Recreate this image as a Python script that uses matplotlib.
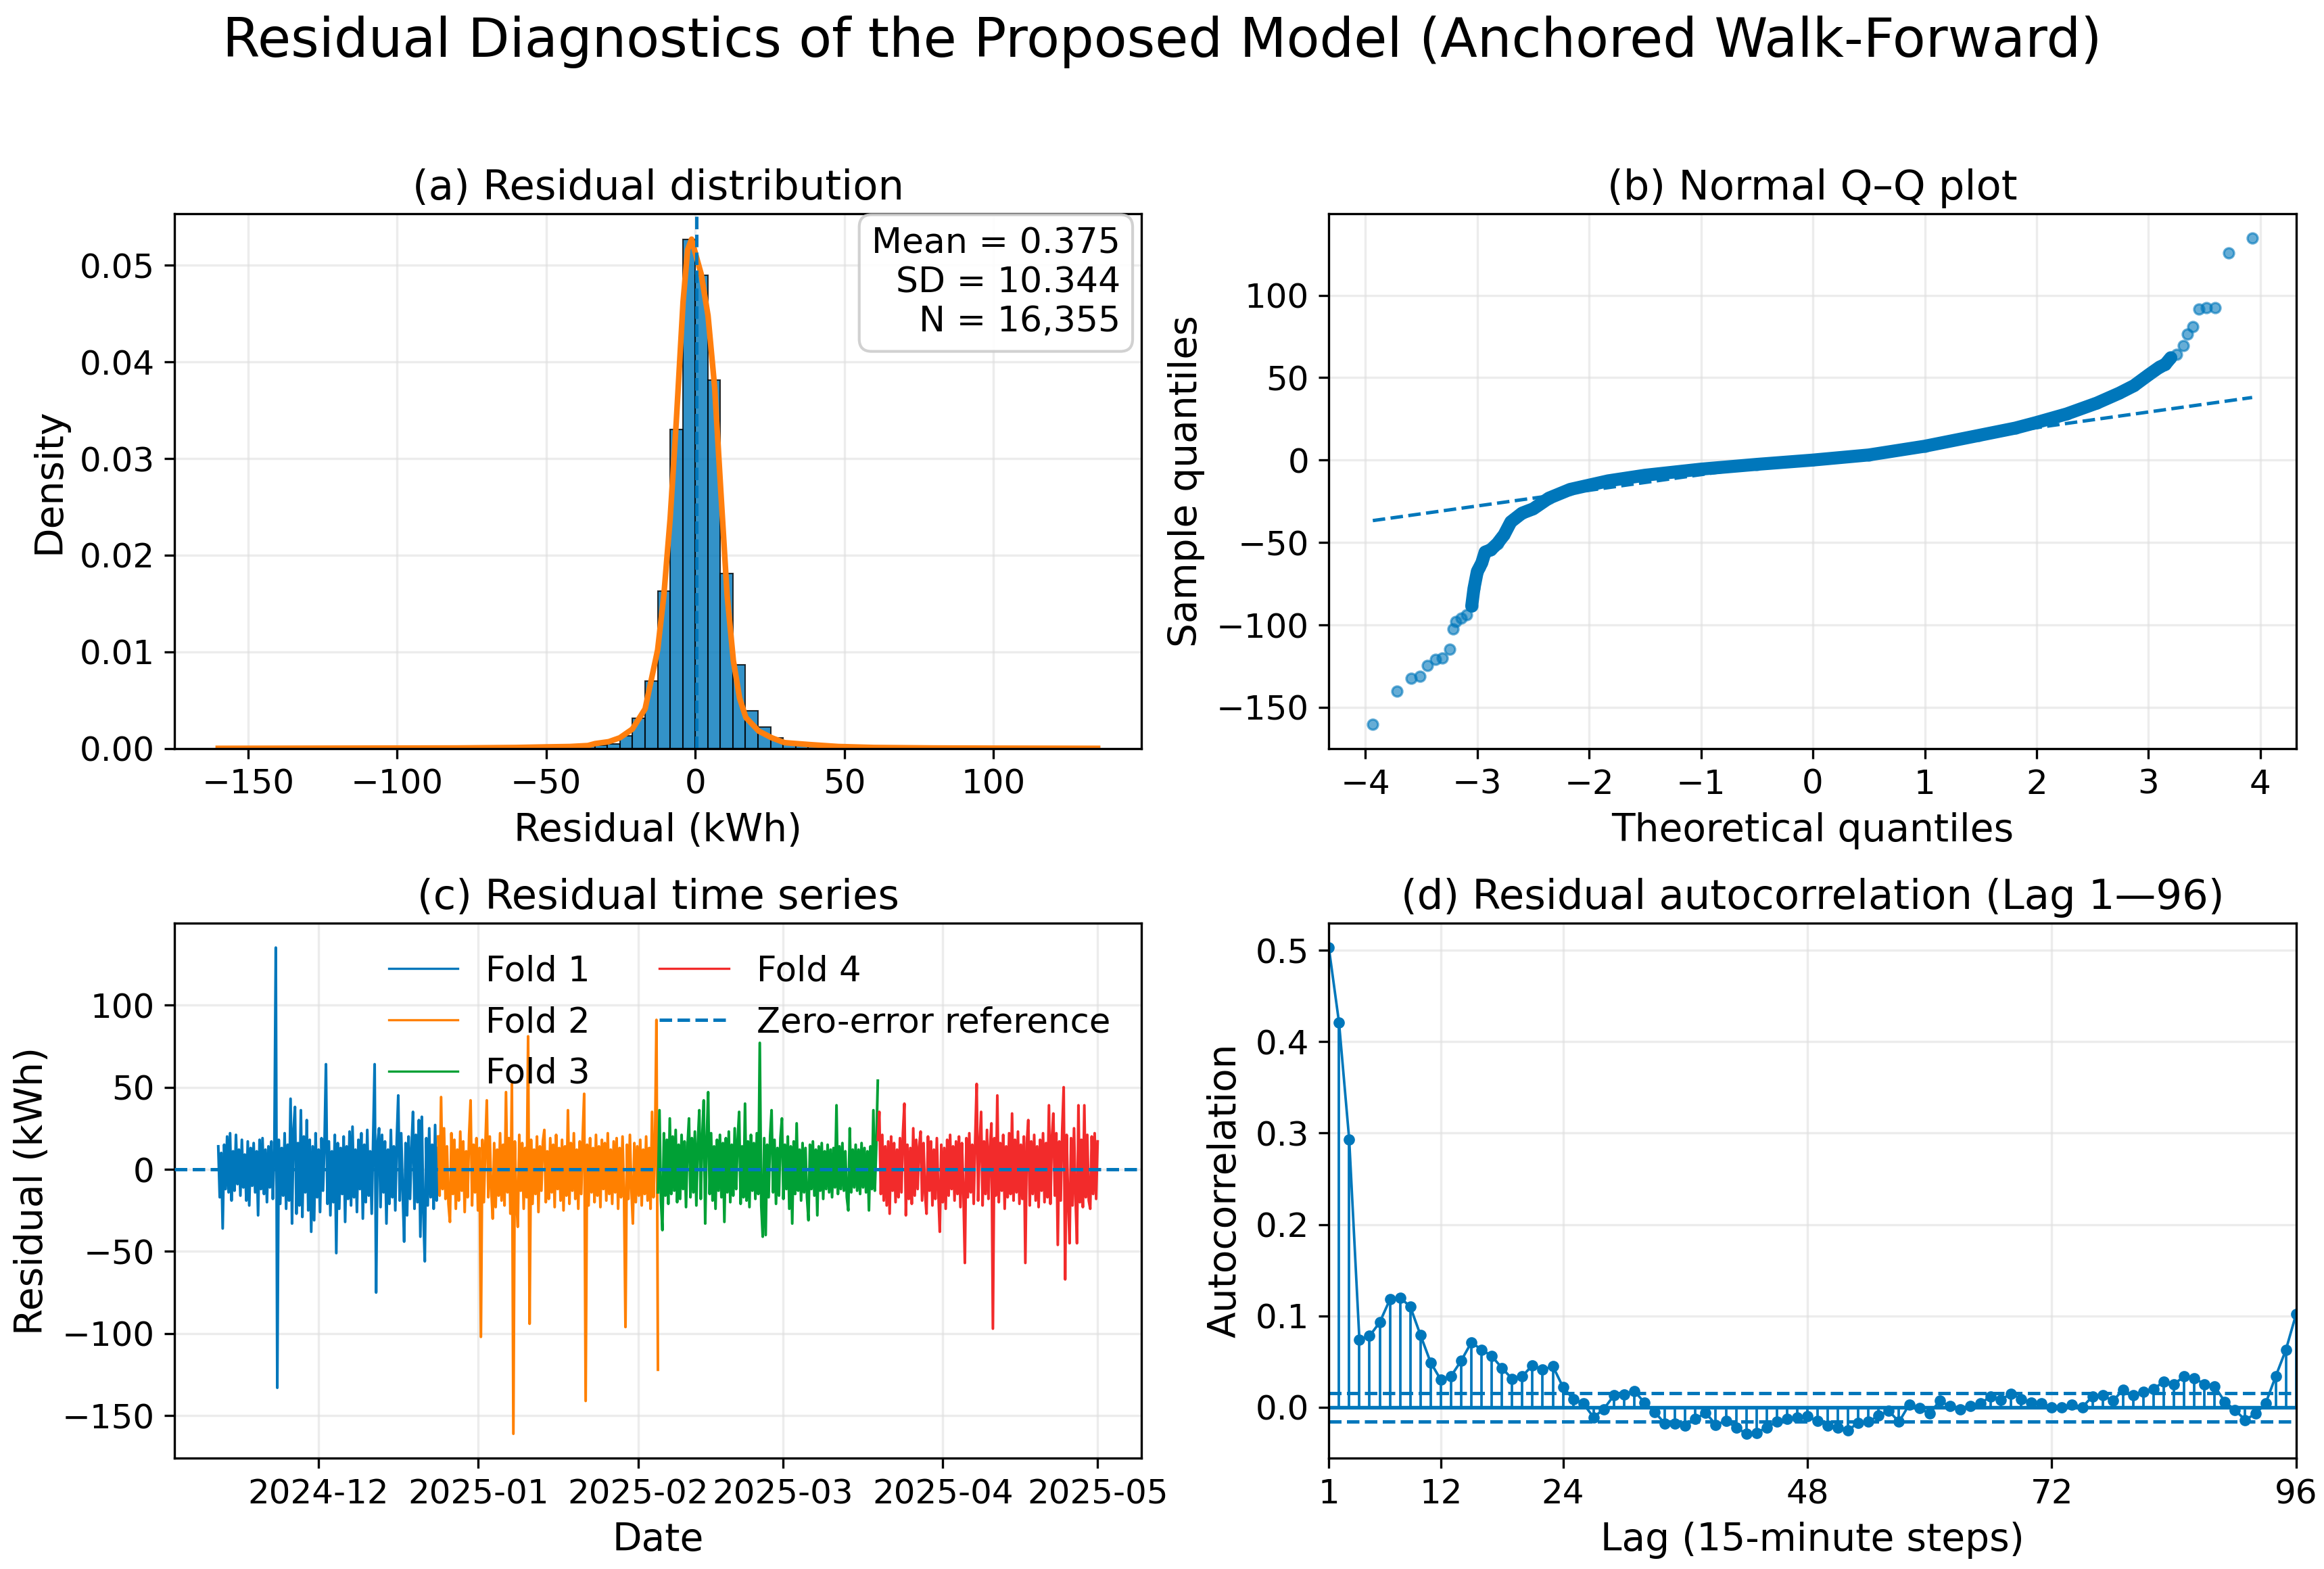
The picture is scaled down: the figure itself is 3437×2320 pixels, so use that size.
import numpy as np
import pandas as pd
import matplotlib
matplotlib.use("Agg")
from matplotlib import pyplot as plt
from matplotlib import rcParams
import matplotlib.dates as mdates

rcParams['font.family'] = ['DejaVu Sans']
rcParams['xtick.labelsize'] = 12
rcParams['ytick.labelsize'] = 12
rcParams['axes.labelsize'] = 13.6
rcParams['axes.titlesize'] = 14.6
rcParams['legend.fontsize'] = 12.3

BLUE = '#0077BB'
ORANGE = '#FF7F0E'

# ---- (a) residual histogram (density per bin) ----
hist_min, hist_max = -159.9, 134.7
hist_density = [
    1.5e-5, 0, 0, 0, 1.5e-5, 0, 2.9e-5, 0, 1.5e-5, 2.9e-5,
    1.5e-5, 0, 0, 1.5e-5, 2.9e-5, 4.4e-5, 2.9e-5, 1.5e-5, 1.5e-5, 2.9e-5,
    2.9e-5, 4.4e-5, 5.8e-5, 8.7e-5, 1.2e-4, 1.5e-4, 1.6e-4, 1.9e-4, 2.2e-4, 2.6e-4,
    3.2e-4, 5.0e-4, 1.32e-3, 3.10e-3, 6.96e-3, 1.625e-2, 3.30e-2, 5.27e-2, 4.90e-2, 3.81e-2,
    1.81e-2, 8.68e-3, 3.93e-3, 2.25e-3, 1.07e-3, 5.0e-4, 3.0e-4, 2.0e-4, 1.5e-4, 1.2e-4,
    8.7e-5, 7.3e-5, 5.8e-5, 4.4e-5, 2.9e-5, 2.9e-5, 1.5e-5, 1.5e-5, 2.9e-5, 4.4e-5,
    0, 0, 1.5e-5, 0, 0, 0, 0, 1.5e-5, 0, 1.5e-5,
]
kde_x = [-160, -120, -80, -60, -50, -42, -36, -33.6, -29, -25.3, -21.1, -16.8, -12.6,
         -10.5, -8.4, -6.35, -4.07, -2.55, -1.2, 0.1, 2.0, 4.3, 6.55, 8.6, 10.7, 12.8,
         14.9, 17.0, 21.3, 25.7, 30, 38.4, 48, 60, 80, 100, 120, 135]
kde_y = [0.00001, 0.00003, 0.00005, 0.0001, 0.00016, 0.0002, 0.0003, 0.0005, 0.0007,
         0.0011, 0.002, 0.0041, 0.0102, 0.0159, 0.0238, 0.0338, 0.0462, 0.0516, 0.0527,
         0.0512, 0.0491, 0.0448, 0.0373, 0.0266, 0.0159, 0.0091, 0.0052, 0.0032, 0.0018,
         0.0011, 0.0006, 0.0004, 0.0002, 0.0001, 0.00005, 0.00003, 0.00002, 0.00001]
resid_mean = 0.375
resid_sd = 10.344
n_obs = 16355

# ---- (b) Q-Q plot points ----
qq_core_theo = [-3.05, -3.03, -3.0, -2.98, -2.96, -2.93, -2.88, -2.82, -2.76, -2.70, -2.6,
                -2.5, -2.36, -2.17, -1.83, -1.5, -1.0, -0.5, 0.0, 0.5, 1.0, 1.48, 1.81,
                2.0, 2.27, 2.54, 2.74, 2.87, 3.0, 3.10, 3.15, 3.2]
qq_core_sample = [-88.6, -78.0, -67.6, -65.0, -62.4, -55.8, -54.5, -50.6, -45.3, -37.5, -32.2,
                  -29.6, -23.1, -17.8, -12.6, -9.2, -5.5, -2.6, 0.0, 3.1, 8.4, 14.9, 19.4,
                  22.8, 28.0, 34.6, 40.6, 45.1, 51.6, 56.4, 58.0, 62.1]
qq_tail_theo = [-3.934, -3.715, -3.589, -3.510, -3.444, -3.371, -3.311, -3.245, -3.219,
                -3.192, -3.146, -3.093, 3.25, 3.311, 3.351, 3.397, 3.450, 3.517, 3.596,
                3.715, 3.927]
qq_tail_sample = [-160.2, -140.2, -132.4, -131.1, -124.5, -120.8, -120.1, -114.8, -102.5,
                  -97.8, -95.7, -93.8, 64.0, 69.5, 76.5, 81.0, 91.7, 92.3, 92.3,
                  125.8, 134.7]
qq_slope = 9.5
qq_intercept = 0.65

# ---- (c) residual time series, sampled per fold ----
series_start = '2024-11-11 15:15'
fold_sizes = [4089, 4089, 4089, 4088]
fold_labels = ['Fold 1', 'Fold 2', 'Fold 3', 'Fold 4']
fold_colors = ['#0077BB', '#FF8000', '#00A035', '#F22B2B']

fold1 = [14, -17, 10, -36, 15, -12, 20, -14, 22, -19, 11, -13, 21, -9, 12,
         -16, 18, -11, 9, -19, 17, -22, 13, -10, 16, -14, 11, -28, 18, -12,
         19, -15, 12, -20, 14, -11, 17, -18, 10, 135, -133, 18, -21, 13, -16,
         22, -24, 15, -19, 43, -33, 24, 38, -27, 16, -22, 36, -29, 20, -14,
         30, -25, 18, -38, 14, -31, 22, -17, 12, -26, 19, -13, 15, 64, -21,
         17, -28, 11, -20, 21, -51, 16, -24, 13, -15, 20, -32, 14, -18, 23,
         -22, 26, -17, 12, -26, 18, -12, 22, -30, 15, -20, 24, -16, 11, -27,
         19, 64, -75, 16, 25, -23, 21, -14, 17, -33, 12, -21, 24, -17, 14,
         -25, 18, 45, -19, 22, -13, -44, 16, -28, 20, -18, 13, 35, -24, 21,
         -20, 30, -41, 32, -26, -56, 19, -22, 25, -17, 15, -24, 27, -19, 13]
fold2 = [20, -16, 44, -12, 25, -18, 14, -21, -32, 22, -15, 18, -24, 12, -19,
         23, -13, 17, -26, 11, -17, 21, 42, -22, 15, -14, 19, -25, 13, -102,
         18, -20, 14, 42, -17, 20, -12, -30, 16, -23, 12, -16, 22, -19, 15,
         -22, 47, -14, 19, -27, 52, -161, 17, -18, -35, 21, -13, 16, -24, 13,
         -17, 81, -94, 18, -21, 12, -15, 20, -26, 14, -13, 17, 24, -20, 11,
         -18, 19, -14, 15, -23, 21, -12, 13, -19, 18, -25, 14, -16, 36, -21,
         16, -13, 22, -18, 12, -24, 17, -15, 20, 46, -141, 15, -22, 19, -14,
         13, -20, 21, -16, 14, -23, 18, -12, 16, -19, 22, -15, 12, -21, 17,
         -14, 19, -24, 13, -17, 20, -13, -96, 15, -18, 21, -12, -33, 16, -20,
         14, -16, 18, -22, 12, -15, 20, -19, 13, -24, 35, -17, 15, 91, -122]
fold3 = [-14, 36, -19, -37, 22, -16, 18, -21, 31, -15, 20, -13, 24, -20, 15,
         -18, 21, -12, 17, -23, 14, 31, -17, 19, -14, 23, -22, 16, 36, -18,
         20, 42, -33, 17, 47, -15, 22, -19, 14, -24, 18, -13, 21, -17, 16,
         -32, 19, -14, 23, -20, 15, -16, 25, -12, 18, 35, -21, 14, -17, 40,
         -19, 17, -23, 21, -13, 16, -18, 22, -15, 77, -22, -41, 19, -40, 15,
         -17, 20, 36, -14, 18, -21, 13, -16, 19, 31, -18, 15, -12, 20, -24,
         14, -33, 17, -15, 28, -13, 12, -19, 16, -14, 13, -17, -31, 15, -12,
         17, -16, 12, -28, 14, -13, 16, -18, 11, -12, 15, -14, 12, -17, 13,
         -11, 39, -15, 14, -12, 16, -13, 11, -17, -25, 25, -14, 12, -11, 15,
         -13, 12, -15, 16, -11, 13, -14, 11, -25, 14, -12, 36, -13, 15, 54]
fold4 = [18, 35, -15, 21, -19, 14, -22, 17, -27, 20, -13, 16, -20, 12, -17,
         19, -14, 22, 40, -28, 15, -18, 13, -21, 25, -16, 18, -12, 14, 23,
         -19, 16, -15, -27, 20, -13, 17, -22, 12, -18, 19, -14, -38, 15, -20,
         13, -24, 18, -16, 21, -12, 14, -19, 17, -15, 20, -23, 16, -13, -57,
         19, -17, 22, -14, 15, -21, 18, 52, -19, 14, 35, -22, 17, -15, 24,
         -18, 13, 28, -97, 19, -16, 45, -20, 16, -13, 21, -24, 14, -17, 22,
         -15, 34, -19, 18, -14, 23, -21, 15, -18, 20, -57, 16, 30, -22, 17,
         -15, 21, -19, 14, -23, 18, -13, 22, -20, 16, -17, 39, -21, 19, 34,
         -16, 22, -46, 17, -19, 24, 50, -67, 21, -18, -45, 19, -22, 25, -16,
         -45, 39, -20, 18, -23, 39, -17, 21, -19, -24, 20, -15, 22, -18, 17]
fold_values = [fold1, fold2, fold3, fold4]

# ---- (d) autocorrelation, lags 1..96 ----
acf_lags = list(range(1, 97))
acf_values = [
    0.503, 0.421, 0.293, 0.074, 0.078, 0.093, 0.118, 0.120, 0.110, 0.079,
    0.049, 0.030, 0.034, 0.051, 0.071, 0.063, 0.056, 0.043, 0.031, 0.034,
    0.046, 0.041, 0.045, 0.022, 0.009, 0.004, -0.011, -0.002, 0.013, 0.014,
    0.018, 0.005, -0.005, -0.018, -0.018, -0.020, -0.013, -0.006, -0.019, -0.015,
    -0.022, -0.029, -0.028, -0.022, -0.016, -0.013, -0.011, -0.010, -0.015, -0.020,
    -0.022, -0.025, -0.017, -0.016, -0.009, -0.004, -0.016, 0.003, -0.001, -0.007,
    0.007, 0.001, -0.002, 0.001, 0.004, 0.012, 0.008, 0.015, 0.009, 0.005,
    0.004, 0.000, 0.000, 0.003, 0.000, 0.012, 0.013, 0.007, 0.019, 0.013,
    0.017, 0.020, 0.028, 0.025, 0.034, 0.032, 0.025, 0.023, 0.006, -0.003,
    -0.014, -0.007, 0.004, 0.034, 0.063, 0.102,
]


def style_grid(ax):
    ax.grid(True, color='0.88', linewidth=0.8, alpha=0.6)
    ax.set_axisbelow(True)


def plot_histogram(ax):
    edges = np.linspace(hist_min, hist_max, len(hist_density) + 1)
    ax.bar(edges[:-1], hist_density, width=np.diff(edges), align='edge',
           color=BLUE, alpha=0.8, edgecolor='black', linewidth=0.5)
    ax.plot(kde_x, kde_y, color=ORANGE, linewidth=2)
    ax.axvline(resid_mean, color=BLUE, linestyle='--', linewidth=1.2)
    ax.text(0.978, 0.975,
            "Mean = %.3f\nSD = %.3f\nN = %s" % (resid_mean, resid_sd, f"{n_obs:,}"),
            transform=ax.transAxes, ha='right', va='top', fontsize=12.5,
            bbox=dict(boxstyle='round,pad=0.35', facecolor='white', edgecolor='0.8', alpha=0.9))
    ax.set_title("(a) Residual distribution", pad=5)
    ax.set_xlabel("Residual (kWh)")
    ax.set_ylabel("Density")
    style_grid(ax)


def plot_qq(ax):
    ax.plot(qq_core_theo, qq_core_sample, '-', color=BLUE, linewidth=4.6,
            solid_capstyle='round')
    ax.scatter(qq_core_theo + qq_tail_theo, qq_core_sample + qq_tail_sample, s=13,
               color=BLUE, alpha=0.6, edgecolors=BLUE, linewidths=0.8)
    t_all = qq_core_theo + qq_tail_theo
    xs = np.array([min(t_all), max(t_all)])
    ax.plot(xs, qq_slope * xs + qq_intercept, '--', color=BLUE, linewidth=1.2)
    ax.set_title("(b) Normal Q\u2013Q plot", pad=5)
    ax.set_xlabel("Theoretical quantiles")
    ax.set_ylabel("Sample quantiles")
    style_grid(ax)


def plot_timeseries(ax):
    times = pd.date_range(series_start, periods=sum(fold_sizes), freq='15min')
    pos = 0
    for vals, size, label, color in zip(fold_values, fold_sizes, fold_labels, fold_colors):
        t0 = mdates.date2num(times[pos])
        t1 = mdates.date2num(times[pos + size - 1])
        ax.plot(np.linspace(t0, t1, len(vals)), vals, color=color, linewidth=0.95, label=label)
        pos += size
    ax.axhline(0, color=BLUE, linestyle='--', linewidth=1.2, label='Zero-error reference', zorder=5)
    ax.xaxis.set_major_locator(mdates.MonthLocator())
    ax.xaxis.set_major_formatter(mdates.DateFormatter('%Y-%m'))
    leg = ax.legend(ncol=2, frameon=False, loc='upper right')
    for line in leg.get_lines()[:4]:
        line.set_linewidth(0.8)
    ax.set_title("(c) Residual time series", pad=5)
    ax.set_xlabel("Date")
    ax.set_ylabel("Residual (kWh)")
    style_grid(ax)


def plot_acf(ax):
    conf = 1.96 / np.sqrt(n_obs)
    ax.vlines(acf_lags, 0, acf_values, color=BLUE, linewidth=0.9)
    ax.plot(acf_lags, acf_values, '-o', color=BLUE, markersize=3, linewidth=0.9)
    ax.axhline(0, color=BLUE, linewidth=1.3)
    ax.axhline(conf, color=BLUE, linestyle='--', linewidth=1.2)
    ax.axhline(-conf, color=BLUE, linestyle='--', linewidth=1.2)
    ax.set_xlim(1, 96)
    ax.set_xticks([1, 12, 24, 48, 72, 96])
    ax.set_title("(d) Residual autocorrelation (Lag 1\u201496)", pad=5)
    ax.set_xlabel("Lag (15-minute steps)")
    ax.set_ylabel("Autocorrelation")
    style_grid(ax)


fig, axes = plt.subplots(2, 2, figsize=(3437 / 300, 2320 / 300), dpi=300)
fig.subplots_adjust(left=0.075, right=0.988, bottom=0.0707, top=0.8638,
                    wspace=0.1936, hspace=0.327)

plot_histogram(axes[0, 0])
plot_qq(axes[0, 1])
plot_timeseries(axes[1, 0])
plot_acf(axes[1, 1])

fig.suptitle("Residual Diagnostics of the Proposed Model (Anchored Walk-Forward)",
             fontsize=19.2, y=0.99)

fig.savefig("out.png", dpi=300)
